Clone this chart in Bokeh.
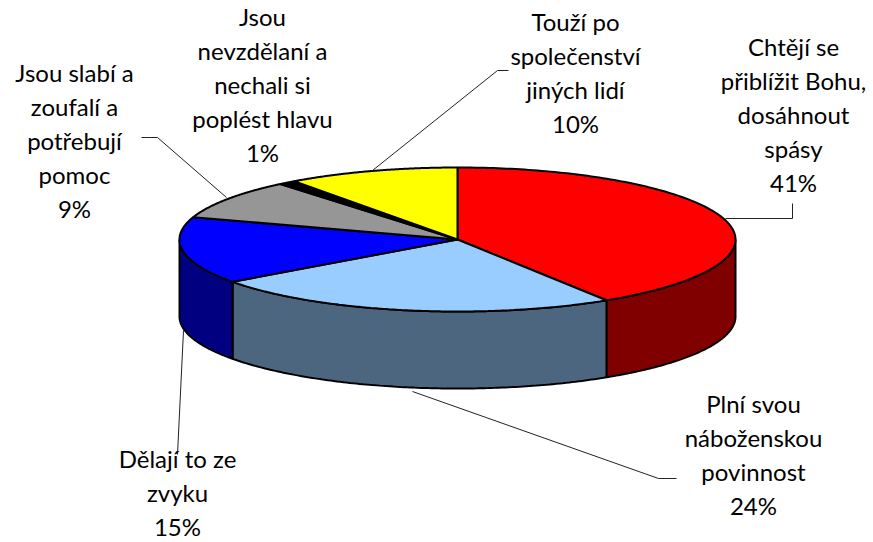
import numpy as np
from bokeh.embed import file_html
from bokeh.models import Range1d
from bokeh.plotting import figure
from bokeh.resources import INLINE
from bokeh.core.properties import value

categories = ["Chtějí se\npřiblížit Bohu,\ndosáhnout\nspásy",
              "Plní svou\nnáboženskou\npovinnost",
              "Dělají to ze\nzvyku",
              "Jsou slabí a\nzoufalí a\npotřebují\npomoc",
              "Jsou\nnevzdělaní a\nnechali si\npoplést hlavu",
              "Touží po\nspolečenství\njiných lidí"]
values = [41, 24, 15, 9, 1, 10]
top_colors = ["#FF0000", "#99CCFF", "#0000FF", "#969696", "#000000", "#FFFF00"]
side_colors = ["#800000", "#4D6680", "#000080", "#4B4B4B", "#000000", "#808000"]

# layout, in page pixels
CX, CY, RX, RY, DEPTH = 457, 239, 278, 72, 77
label_x = [793, 753, 177, 74, 262, 575]
label_y = [114, 454, 492, 140, 84, 72]
leaders_x = [[725, 792, 792], [412, 658, 676], [183, 177], [226, 157, 141], [], [372, 497, 508]]
leaders_y = [[218, 218, 203], [391, 478, 478], [330, 454], [197, 137, 137], [], [170, 70, 70]]

W, H = 873, 542
p = figure(width=W, height=H, output_backend="svg", toolbar_location=None,
           x_range=Range1d(0, W), y_range=Range1d(H, 0), min_border=0,
           outline_line_color=None, background_fill_color="white", border_fill_color="white")
p.axis.visible = False
p.grid.visible = False


def rim(t, dy=0.0):
    r = np.radians(t)
    return CX + RX * np.sin(r), CY - RY * np.cos(r) + dy


edges = np.concatenate([[0], np.cumsum(values)]) / sum(values) * 360

# front wall: only the part of each slice between 90 and 270 degrees shows
for a, b, c in zip(edges[:-1], edges[1:], side_colors):
    lo, hi = max(a, 90), min(b, 270)
    if hi <= lo:
        continue
    t = np.linspace(lo, hi, 120)
    x1, y1 = rim(t)
    x2, y2 = rim(t[::-1], DEPTH)
    p.patch(np.r_[x1, x2], np.r_[y1, y2], fill_color=c, line_color="black", line_width=2)

# top face
for a, b, c in zip(edges[:-1], edges[1:], top_colors):
    t = np.linspace(a, b, 160)
    x, y = rim(t)
    p.patch(np.r_[CX, x], np.r_[CY, y], fill_color=c, line_color="black", line_width=2)

# leader lines
for lx, ly in zip(leaders_x, leaders_y):
    if lx:
        p.line(lx, ly, line_color="#222222", line_width=1)

# labels
texts = [f"{c}\n{v}%" for c, v in zip(categories, values)]
p.text(label_x, label_y, text=texts, text_font=value("Lato"), text_font_size="24px",
       text_color="black", text_align="center", text_baseline="middle", text_line_height=1.18)

open("out.html", "w").write(file_html(p, INLINE))
